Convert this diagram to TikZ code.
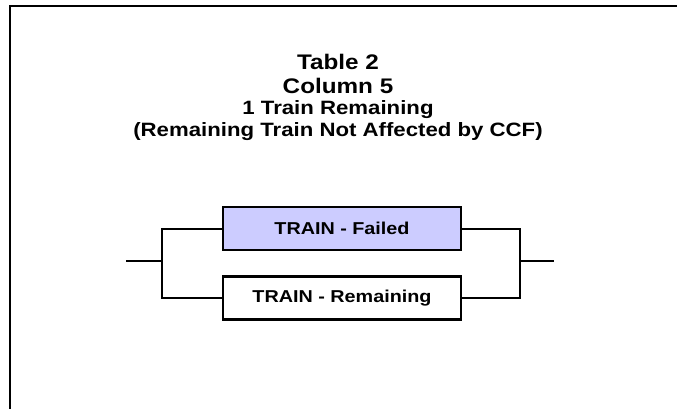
\documentclass[tikz,border=0pt]{standalone}
\usepackage{fontspec}
\newfontfamily\widesans{Liberation Sans}[FakeStretch=1.15]
\definecolor{failfill}{HTML}{CCCCFF}
\begin{document}
\begin{tikzpicture}[x=1pt,y=-1pt,
  frame/.style={line width=2.4pt},
  wire/.style={line width=2pt},
  blockbox/.style={draw, line width=2.4pt, minimum width=238pt, minimum height=43pt,
    inner sep=0pt, font=\widesans\bfseries\fontsize{17.2}{20}\selectfont},
  titleline/.style={anchor=base, inner sep=0pt, font=\widesans\bfseries\fontsize{#1}{#1}\selectfont}
]
\useasboundingbox (0,0) rectangle (677,409);

% page frame, open at the right and bottom
\draw[frame] (10,409) -- (10,6) -- (677,6);

% heading
\node[titleline=21.1] (t1) at (338,69.5) {Table 2};
\node[titleline=21.1] (t2) at (338,93.5) {Column 5};
\node[titleline=19.3] (t3) at (338,115) {1 Train Remaining};
\node[titleline=19.3] (t4) at (338,137) {(Remaining Train Not Affected by CCF)};

% the two parallel trains
\node[blockbox, fill=failfill] (failed) at (342,228.5) {TRAIN - Failed};
\node[blockbox] (remain) at (342,298) {TRAIN - Remaining};

% junction points
\coordinate (lin) at (126,261);
\coordinate (lj) at (162,261);
\coordinate (rj) at (520,261);
\coordinate (rout) at (554,261);

\draw[wire] (lin) -- (lj);
\draw[wire] (failed.west) -| (lj) |- (remain.west);
\draw[wire] (failed.east) -| (rj) |- (remain.east);
\draw[wire] (rj) -- (rout);
\end{tikzpicture}
\end{document}
